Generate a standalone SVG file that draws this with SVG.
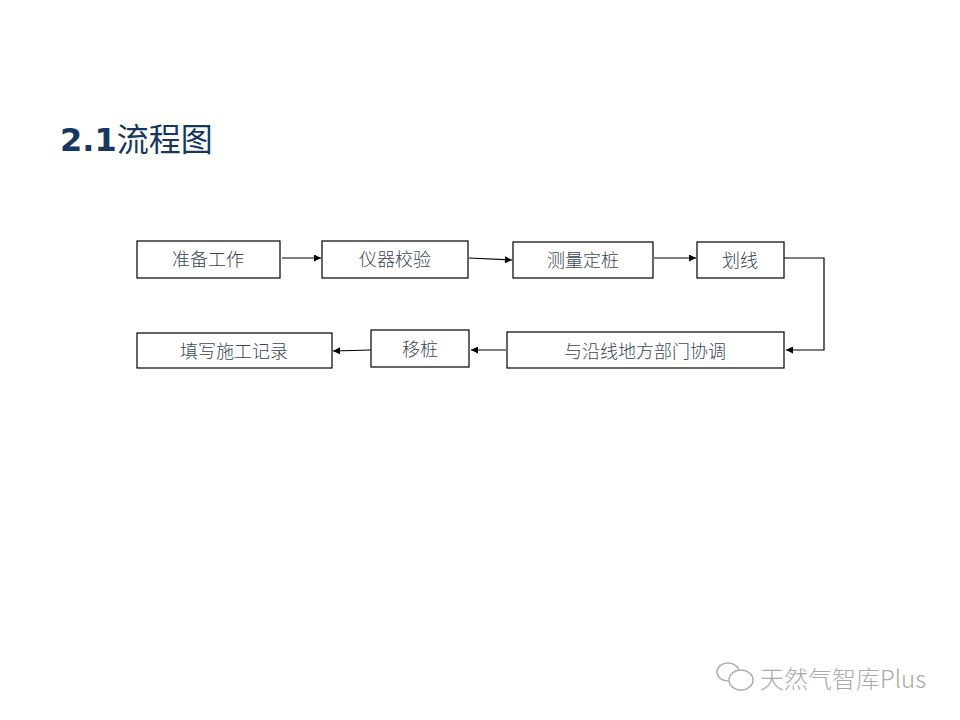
<svg xmlns="http://www.w3.org/2000/svg" width="960" height="720" viewBox="0 0 960 720">
<defs>
<marker id="ah" viewBox="0 0 10 10" refX="10" refY="5" markerWidth="8" markerHeight="7" markerUnits="userSpaceOnUse" orient="auto">
<path d="M0,0 L10,5 L0,10 z" fill="#000"/>
</marker>
<style>
.box{fill:#fff;stroke:#000;stroke-width:1.2}
.lbl{font-family:"Noto Sans CJK SC","Noto Sans",sans-serif;font-size:18px;font-weight:300;fill:#3a4656;text-anchor:middle;dominant-baseline:central}
.con{fill:none;stroke:#000;stroke-width:1.2;marker-end:url(#ah)}
</style>
</defs>
<rect width="960" height="720" fill="#fff"/>
<text x="60" y="151" font-family="'DejaVu Sans','Noto Sans CJK SC',sans-serif" font-size="32" fill="#17375e"><tspan font-weight="bold">2.1</tspan><tspan font-family="'Noto Sans CJK SC',sans-serif">流程图</tspan></text>
<g id="n1"><rect class="box" x="137" y="241" width="143" height="37"/><text class="lbl" x="208" y="258">准备工作</text></g>
<g id="n2"><rect class="box" x="322" y="241" width="146" height="37"/><text class="lbl" x="395" y="258">仪器校验</text></g>
<g id="n3"><rect class="box" x="513" y="242" width="140" height="36"/><text class="lbl" x="583" y="259">测量定桩</text></g>
<g id="n4"><rect class="box" x="697" y="242" width="87" height="36"/><text class="lbl" x="740" y="259">划线</text></g>
<g id="n5"><rect class="box" x="507" y="332" width="277" height="36"/><text class="lbl" x="645" y="350">与沿线地方部门协调</text></g>
<g id="n6"><rect class="box" x="371" y="330" width="98" height="37"/><text class="lbl" x="420" y="348">移桩</text></g>
<g id="n7"><rect class="box" x="137" y="333" width="195" height="35"/><text class="lbl" x="234" y="350">填写施工记录</text></g>
<g id="connectors">
<path class="con" d="M282,258 L321,258"/>
<path class="con" d="M469,258 L512,260"/>
<path class="con" d="M654,258 L696,258"/>
<path class="con" d="M784,258 L824,258 L824,350 L786,350"/>
<path class="con" d="M506,350 L471,350"/>
<path class="con" d="M371,350 L333,351"/>
</g>
<g id="watermark" fill="none" stroke="#b0b0b0" stroke-width="1.5">
<ellipse cx="728" cy="672" rx="11" ry="9"/>
<ellipse cx="741" cy="680" rx="12" ry="10" fill="#fff"/>
</g>
<text x="760" y="688" font-family="'Noto Sans CJK SC',sans-serif" font-size="24" font-weight="300" fill="#aaaaaa">天然气智库Plus</text>
</svg>
